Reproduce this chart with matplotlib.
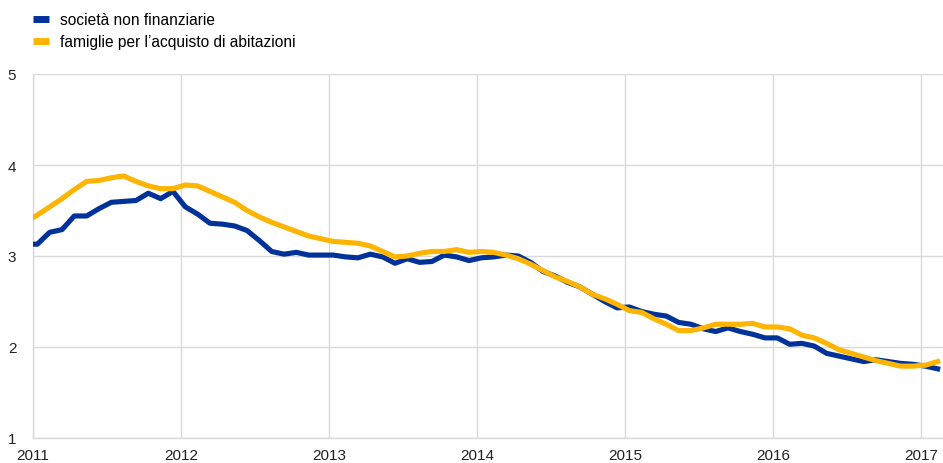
import numpy as np
import matplotlib
matplotlib.use("Agg")
import matplotlib.pyplot as plt
from matplotlib.lines import Line2D

# monthly series, Dec 2010 .. Feb 2017
months = np.arange(-1, 74)
societa = [3.13,
           3.13, 3.26, 3.29, 3.44, 3.44, 3.52, 3.59, 3.60, 3.61, 3.69, 3.63, 3.71,
           3.54, 3.46, 3.36, 3.35, 3.33, 3.28, 3.17, 3.05, 3.02, 3.04, 3.01, 3.01,
           3.01, 2.99, 2.98, 3.02, 2.99, 2.92, 2.97, 2.93, 2.94, 3.01, 2.99, 2.95,
           2.98, 2.99, 3.01, 3.00, 2.93, 2.83, 2.78, 2.71, 2.66, 2.58, 2.50, 2.43,
           2.44, 2.39, 2.36, 2.34, 2.27, 2.25, 2.20, 2.17, 2.21, 2.17, 2.14, 2.10,
           2.10, 2.03, 2.04, 2.01, 1.93, 1.90, 1.87, 1.84, 1.86, 1.84, 1.82, 1.81,
           1.79, 1.76]
famiglie = [3.37,
            3.45, 3.54, 3.63, 3.73, 3.82, 3.83, 3.86, 3.88, 3.82, 3.77, 3.74, 3.74,
            3.78, 3.77, 3.71, 3.65, 3.59, 3.50, 3.43, 3.37, 3.32, 3.27, 3.22, 3.19,
            3.16, 3.15, 3.14, 3.11, 3.05, 2.99, 3.00, 3.03, 3.05, 3.05, 3.07, 3.04,
            3.05, 3.04, 3.01, 2.97, 2.91, 2.84, 2.77, 2.72, 2.66, 2.58, 2.53, 2.47,
            2.40, 2.38, 2.31, 2.25, 2.18, 2.18, 2.21, 2.25, 2.25, 2.25, 2.26, 2.22,
            2.22, 2.20, 2.13, 2.10, 2.04, 1.97, 1.93, 1.89, 1.85, 1.82, 1.79, 1.79,
            1.80, 1.84]
years = [2011, 2012, 2013, 2014, 2015, 2016, 2017]
labels = ["società non finanziarie", "famiglie per l\u2019acquisto di abitazioni"]

blue = "#003299"
yellow = "#ffb400"
grid = "#d9d9d9"

plt.rcParams["font.family"] = ["Liberation Sans", "DejaVu Sans"]

x = 2011 + (months + 0.35) / 12

fig = plt.figure(figsize=(9.43, 4.64), dpi=100)
ax = fig.add_axes([33 / 943, 25 / 464, 910 / 943, 364 / 464])

ax.plot(x, societa, color=blue, lw=3.7, solid_joinstyle="round", zorder=3)
ax.plot(x, famiglie, color=yellow, lw=3.7, solid_joinstyle="round", zorder=4)

ax.set_xlim(2011, 2011 + 910 / 148)
ax.set_ylim(1, 5)
ax.set_xticks(years)
ax.set_xticklabels([str(y) for y in years])
ax.set_yticks([1, 2, 3, 4, 5])
ax.tick_params(length=0, labelsize=11, colors="#222222")
ax.tick_params(axis="y", pad=12)
ax.tick_params(axis="x", pad=7)
ax.grid(True, color=grid, lw=1)
ax.set_axisbelow(True)
for s in ["top", "right"]:
    ax.spines[s].set_visible(False)
for s in ["left", "bottom"]:
    ax.spines[s].set_color(grid)
    ax.spines[s].set_linewidth(1)

handles = [Line2D([], [], color=blue, lw=5, solid_capstyle="butt"),
           Line2D([], [], color=yellow, lw=5, solid_capstyle="butt")]
fig.legend(handles, labels, loc="upper left", bbox_to_anchor=(33 / 943, 1 - 13 / 464),
           frameon=False, fontsize=11.2, handlelength=1.05, handletextpad=0.7,
           labelspacing=0.45, borderaxespad=0, borderpad=0)

fig.savefig("out.png", dpi=100)
